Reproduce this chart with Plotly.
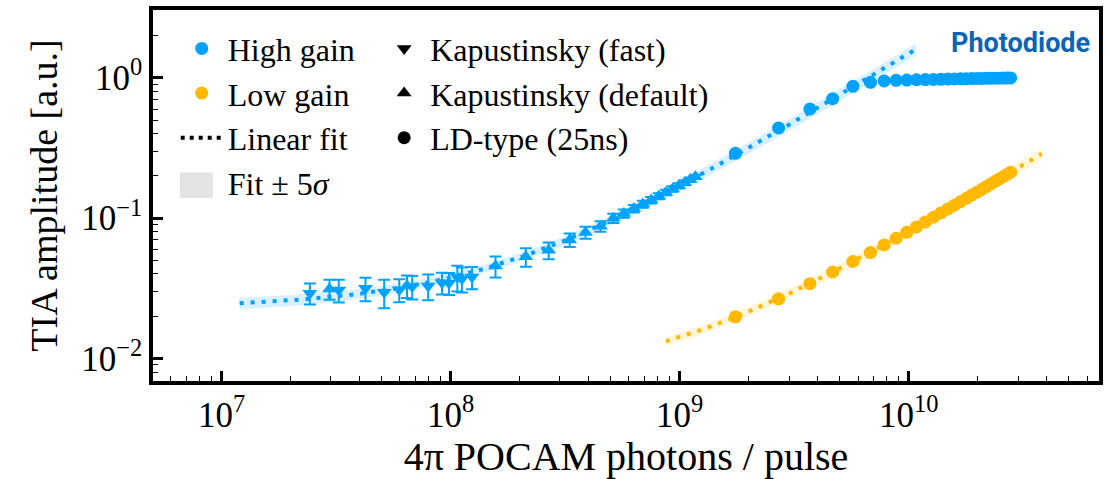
import numpy as np
import plotly.graph_objects as go

BLUE = '#00A2FF'
ORANGE = '#FFB900'
SERIF = 'Liberation Serif, DejaVu Serif, serif'

# ---------------- data ----------------
# High gain, Kapustinsky (fast) - downward triangles
kf_x = [2.43e7, 3.25e7, 4.25e7, 5.13e7, 5.97e7, 6.80e7, 7.98e7, 9.17e7, 9.84e7, 1.07e8, 1.12e8, 1.24e8]
kf_y = [0.0292, 0.0307, 0.0316, 0.0296, 0.0309, 0.0325, 0.0328, 0.0347, 0.0345, 0.0379, 0.0370, 0.0380]
kf_err = [0.0050, 0.0057, 0.0060, 0.0068, 0.0058, 0.0062, 0.0068, 0.0061, 0.0062, 0.0079, 0.0075, 0.0069]

# High gain, Kapustinsky (default) - upward triangles
kd_x = [2.96e7, 6.45e7, 1.57e8, 2.13e8, 2.68e8, 3.31e8, 3.88e8, 4.51e8, 5.13e8, 5.70e8,
        6.30e8, 6.90e8, 7.50e8, 8.10e8, 8.70e8, 9.30e8, 9.90e8, 1.05e9, 1.11e9, 1.17e9]
kd_y = [0.0313, 0.0330, 0.0455, 0.0530, 0.0590, 0.0700, 0.0790, 0.0875, 0.1000, 0.1080,
        0.1170, 0.1260, 0.1345, 0.1435, 0.1525, 0.1615, 0.1700, 0.1790, 0.1880, 0.1970]
kd_err = [0.0051, 0.0060, 0.0078, 0.0080, 0.0080, 0.0078, 0.0078, 0.0076, 0.0075, 0.0074,
          0.0073, 0.0072, 0.0072, 0.0071, 0.0071, 0.0070, 0.0070, 0.0070, 0.0070, 0.0070]

# LD-type (25ns) - circles, same photon counts for both gains
ld_x = [1.75e9, 2.70e9, 3.70e9, 4.65e9, 5.70e9, 6.80e9, 7.80e9, 8.80e9, 9.80e9, 1.08e10,
        1.18e10, 1.28e10, 1.38e10, 1.48e10, 1.58e10, 1.68e10, 1.78e10, 1.88e10, 1.98e10, 2.08e10,
        2.18e10, 2.28e10, 2.38e10, 2.48e10, 2.58e10, 2.68e10, 2.78e10]
hg_ld_y = [0.290, 0.440, 0.600, 0.710, 0.870, 0.930, 0.950, 0.960, 0.965, 0.970,
           0.972, 0.975, 0.977, 0.980, 0.982, 0.984, 0.986, 0.988, 0.990, 0.991,
           0.993, 0.994, 0.995, 0.996, 0.997, 0.998, 1.000]
lg_ld_y = [0.0198, 0.0266, 0.0341, 0.0413, 0.0491, 0.0568, 0.0644, 0.0719, 0.0793, 0.0866,
           0.0940, 0.1015, 0.1090, 0.1163, 0.1236, 0.1310, 0.1385, 0.1460, 0.1532, 0.1606,
           0.1680, 0.1755, 0.1830, 0.1903, 0.1976, 0.2050, 0.2125]
hg_ld_err_rel = 0.025
lg_ld_err_rel = 0.035

# Linear fits y = a*x + b  (parameters and x-extent)
hg_fit = dict(a=1.47e-10, b=0.023, xmin=1.2e7, xmax=1.07e10)
lg_fit = dict(a=7.4e-12, b=0.0068, xmin=8.7e8, xmax=3.8e10)
fit_rel_sigma = 0.02  # 1-sigma relative uncertainty of each fit parameter

# Tick labels
x_tickvals = [1e7, 1e8, 1e9, 1e10]
x_ticktext = ['10<sup>7</sup>', '10<sup>8</sup>', '10<sup>9</sup>', '10<sup>10</sup>']
y_tickvals = [1e-2, 1e-1, 1e0]
y_ticktext = ['10<sup>−2</sup>', '10<sup>−1</sup>', '10<sup>0</sup>']

# ---------------- figure ----------------
fig = go.Figure()

DOT = '4px,7px'


def add_fit(fit, color, rgba):
    xs = np.logspace(np.log10(fit['xmin']), np.log10(fit['xmax']), 300)
    ys = fit['a'] * xs + fit['b']
    sig = np.sqrt((xs * fit['a'] * fit_rel_sigma) ** 2 + (fit['b'] * fit_rel_sigma) ** 2)
    up = ys + 5 * sig
    lo = ys - 5 * sig
    fig.add_trace(go.Scatter(x=xs, y=lo, mode='lines', line=dict(width=0), showlegend=False,
                             hoverinfo='skip'))
    fig.add_trace(go.Scatter(x=xs, y=up, mode='lines', line=dict(width=0), fill='tonexty',
                             fillcolor=rgba, showlegend=False, hoverinfo='skip'))
    fig.add_trace(go.Scatter(x=xs, y=ys, mode='lines', line=dict(color=color, width=4, dash=DOT),
                             showlegend=False, hoverinfo='skip'))


add_fit(hg_fit, BLUE, 'rgba(0,162,255,0.15)')
add_fit(lg_fit, ORANGE, 'rgba(255,185,0,0.15)')

err_style = dict(type='data', thickness=2, width=6)

fig.add_trace(go.Scatter(x=kf_x, y=kf_y, mode='markers', showlegend=False,
                         marker=dict(symbol='triangle-down', size=13, color=BLUE),
                         error_y=dict(array=kf_err, color=BLUE, **err_style)))
fig.add_trace(go.Scatter(x=kd_x, y=kd_y, mode='markers', showlegend=False,
                         marker=dict(symbol='triangle-up', size=13, color=BLUE),
                         error_y=dict(array=kd_err, color=BLUE, **err_style)))
fig.add_trace(go.Scatter(x=ld_x, y=lg_ld_y, mode='markers', name='Low gain', legend='legend',
                         legendgroup='g2', legendrank=2,
                         marker=dict(symbol='circle', size=13, color=ORANGE),
                         error_y=dict(array=[v * lg_ld_err_rel for v in lg_ld_y], color=ORANGE, **err_style)))
fig.add_trace(go.Scatter(x=ld_x, y=hg_ld_y, mode='markers', name='High gain', legend='legend',
                         legendgroup='g1', legendrank=1,
                         marker=dict(symbol='circle', size=13, color=BLUE),
                         error_y=dict(array=[v * hg_ld_err_rel for v in hg_ld_y], color=BLUE, **err_style)))

# legend-only entries
fig.add_trace(go.Scatter(x=[None], y=[None], mode='lines', name='Linear fit', legend='legend',
                         legendgroup='g3', legendrank=3, line=dict(color='black', width=4, dash='4px,5px')))
fig.add_trace(go.Scatter(x=[None], y=[None], mode='markers', name='Fit ± 5<i>σ</i>', legend='legend',
                         legendgroup='g4', legendrank=4,
                         marker=dict(symbol='square', size=10, color='rgba(0,0,0,0)')))
fig.add_trace(go.Scatter(x=[None], y=[None], mode='markers', name='Kapustinsky (fast)', legend='legend2',
                         legendgroup='h1', legendrank=1,
                         marker=dict(symbol='triangle-down', size=13, color='black')))
fig.add_trace(go.Scatter(x=[None], y=[None], mode='markers', name='Kapustinsky (default)', legend='legend2',
                         legendgroup='h2', legendrank=2,
                         marker=dict(symbol='triangle-up', size=13, color='black')))
fig.add_trace(go.Scatter(x=[None], y=[None], mode='markers', name='LD-type (25ns)', legend='legend2',
                         legendgroup='h3', legendrank=3,
                         marker=dict(symbol='circle', size=13, color='black')))

axis_common = dict(type='log', showline=True, linewidth=3.5,
                   linecolor='black', mirror=True, ticks='inside', ticklen=10, tickwidth=2.5,
                   tickcolor='black', showgrid=False, zeroline=False,
                   minor=dict(ticks='inside', ticklen=5, tickwidth=1, tickcolor='black', dtick='D1',
                              showgrid=False),
                   tickfont=dict(family=SERIF, size=35, color='black'))

legend_common = dict(xanchor='left', yanchor='top', bgcolor='rgba(0,0,0,0)', borderwidth=0,
                     font=dict(family=SERIF, size=32, color='black'), tracegroupgap=0,
                     traceorder='grouped', itemwidth=42)

fig.update_layout(
    width=1109, height=479,
    margin=dict(l=153, r=6, t=7, b=95),
    paper_bgcolor='white', plot_bgcolor='white',
    xaxis=dict(range=[6.701, 10.83], tickvals=x_tickvals, ticktext=x_ticktext, **axis_common,
               title=dict(text='4π POCAM photons / pulse', standoff=10,
                          font=dict(family=SERIF, size=40, color='black'))),
    yaxis=dict(range=[-2.161, 0.484], tickvals=y_tickvals, ticktext=y_ticktext, **axis_common,
               title=dict(text='TIA amplitude [a.u.]', standoff=13,
                          font=dict(family=SERIF, size=38, color='black'))),
    legend=dict(x=0.024, y=0.97, **legend_common),
    legend2=dict(x=0.238, y=0.97, **legend_common),
    shapes=[dict(type='rect', xref='paper', yref='paper', x0=0.0284, x1=0.0632, y0=0.4934, y1=0.5623,
                 fillcolor='#e3e3e3', line=dict(width=0), layer='above')],
    annotations=[dict(text='<b>Photodiode</b>', xref='paper', yref='paper', x=0.917, y=0.912,
                      xanchor='center', yanchor='middle', showarrow=False,
                      font=dict(family='Roboto, sans-serif', size=27, color='#0A64B8'))],
)

fig.write_html('out.html')
